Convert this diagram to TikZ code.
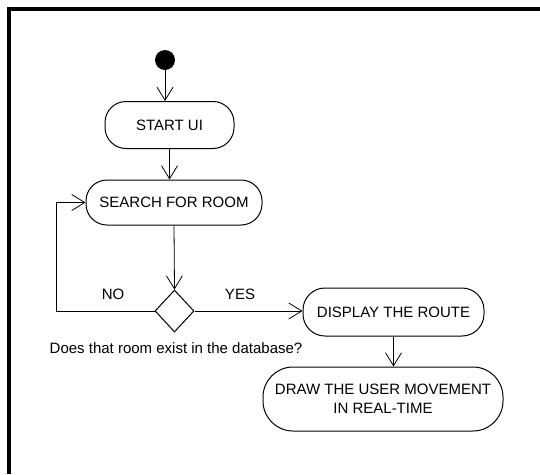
\documentclass[tikz,border=0pt]{standalone}
\usepackage{fontspec}
\setmainfont{Liberation Sans}
\usetikzlibrary{arrows.meta,shapes.geometric}
\begin{document}
\begin{tikzpicture}[x=1pt,y=-1pt,
 act/.style={draw, line width=1pt, rounded corners=#1, align=center, font=\fontsize{15}{19}\selectfont, inner sep=0pt},
 flow/.style={draw, line width=0.8pt, -{Straight Barb[length=13pt,width=16pt,line width=0.8pt]}},
 lbl/.style={font=\fontsize{15}{18}\selectfont, inner sep=0pt}]
\useasboundingbox (0,0) rectangle (540,474);
\fill[white] (0,0) rectangle (540,474);
\fill[black] (7,7) rectangle (540,11);
\fill[black] (7,7) rectangle (11,474);
\node[circle, fill=black, minimum size=20pt, inner sep=0pt] (init) at (165,60) {};
\node[act=21pt, minimum width=129pt, minimum height=47pt] (start) at (169.5,125) {START UI};
\node[act=21pt, minimum width=176pt, minimum height=45pt] (search) at (174,202.5) {SEARCH FOR ROOM};
\node[diamond, draw, line width=1pt, minimum width=39pt, minimum height=42pt, inner sep=0pt] (dec) at (174.5,311) {};
\node[act=22pt, minimum width=181pt, minimum height=48pt] (disp) at (393.5,312) {DISPLAY THE ROUTE};
\node[act=30pt, minimum width=240pt, minimum height=64pt] (drw) at (383,399) {DRAW THE USER MOVEMENT\\IN REAL-TIME};
\coordinate (loop) at (56,311);
\node[lbl] (no) at (113,294) {NO};
\node[lbl] (yes) at (240,294) {YES};
\node[lbl] (cap) at (176,348) {Does that room exist in the database?};
\draw[flow] (init.south) -- (init.south |- start.north);
\draw[flow] (start.south) -- (start.south |- search.north);
\draw[flow] (search.south) -- (dec.north);
\draw[flow] (dec.west) -- (loop) |- (search.west);
\draw[flow] (dec.east) -- (dec.east -| disp.west);
\draw[flow] (disp.south) -- (disp.south |- drw.north);
\end{tikzpicture}
\end{document}
